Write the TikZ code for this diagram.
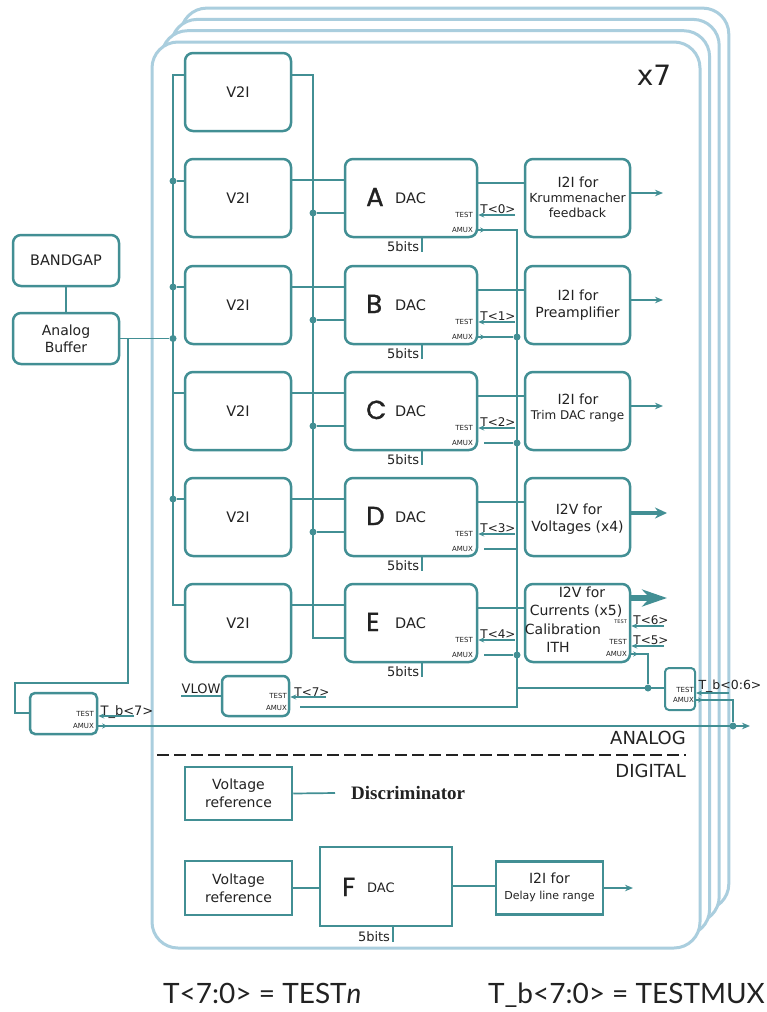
\documentclass[tikz,border=0pt]{standalone}
\usepackage{fontspec}
\setmainfont{DejaVu Sans}
\newfontfamily\latof{Lato}
\newfontfamily\popf[FakeBold=1.2]{Poppins}
\newfontfamily\serff{Liberation Serif}
\usetikzlibrary{arrows.meta,calc}
\definecolor{tealc}{RGB}{66,143,148}
\definecolor{panelc}{RGB}{170,206,222}
\definecolor{inkc}{RGB}{34,34,34}
\newcommand\fsz[2]{\fontsize{#1}{#2}\selectfont}
\tikzset{
 rbox/.style={draw=tealc, line width=2.5pt, rounded corners=8pt, fill=white, inner sep=0pt, text=inkc},
 sbox/.style={draw=tealc, line width=2.5pt, fill=white, inner sep=0pt, text=inkc},
 wire/.style={draw=tealc, line width=1.7pt},
 jdot/.style={circle, fill=tealc, inner sep=0pt, minimum size=7pt},
 port/.style={font=\fsz{7}{8}, inner sep=0pt, text=inkc},
 txt/.style={inner sep=0pt, text=inkc},
 panel/.style={draw=panelc, line width=3pt, fill=white, rounded corners=26pt},
 tip/.style={-{Stealth[length=8pt,width=6.5pt]}},
 intip/.style={-{Stealth[length=6pt,width=5pt]}},
 amark/.style={draw=tealc, line width=1.4pt, -{Stealth[length=5pt,width=5pt]}},
}
\begin{document}
\begin{tikzpicture}[x=1pt,y=-1pt]
\useasboundingbox (0,0) rectangle (766,1012);
\fill[white] (0,0) rectangle (766,1012);
% stacked panels
\foreach \i in {3,2,1,0} {
  \path[panel] (152+9.6*\i, 42-11.3*\i) rectangle (700+9.6*\i, 948-12.7*\i);
}
\node[txt, font=\fsz{28}{30}] (x7) at (654,75) {x7};
% left blocks
\node[rbox, minimum width=106pt, minimum height=51pt, font=\fsz{14.5}{17}] (bg) at (66,260.5) {BANDGAP};
\node[rbox, minimum width=106pt, minimum height=51pt, font=\fsz{14}{17}, align=center] (buf) at (66,338.5) {Analog\\Buffer};
\draw[wire] (bg.south) -- (buf.north);
% V2I column
\foreach \q/\cy in {0/92,1/198,2/305,3/411,4/517,5/623} {
  \node[rbox, minimum width=106pt, minimum height=78pt, font=\fsz{14.5}{16}] (v\q) at (238,\cy) {V2I};
}
% DAC column
\foreach \q/\cy/\lt/\nn in {1/198/A/0,2/305/B/1,3/411/C/2,4/517/D/3,5/623/E/4} {
  \node[rbox, minimum width=132pt, minimum height=78pt] (d\q) at (411,\cy) {};
  \node[txt, anchor=base west, font=\popf\fsz{26}{28}] (dl\q) at (366,\cy+8) {\lt};
  \node[txt, anchor=base west, font=\fsz{14.5}{16}] (dd\q) at (395,\cy+5) {DAC};
  \node[port, anchor=east] (dt\q) at (473,\cy+17) {TEST};
  \node[port, anchor=east] (da\q) at (473,\cy+32) {AMUX};
  \node[txt, anchor=base west, font=\fsz{13}{15}] (db\q) at (387,\cy+53) {5bits};
  \draw[tealc, line width=1.2pt] (d\q.south -| 422,0) -- ++(0,14);
  \node[rbox, minimum width=105pt, minimum height=78pt] (i\q) at (577.5,\cy) {};
  \coordinate (ts\q) at (515,\cy+17);
  \draw[wire, intip] (ts\q) -- (d\q.east |- ts\q);
  \node[txt, anchor=base, font=\fsz{12}{14}] (tl\q) at (498,\cy+15) {T<\nn>};
  \draw[wire] (v\q.east |- 0,\cy-18) -- (d\q.west |- 0,\cy-18);
  \draw[wire] (d\q.east |- 0,\cy-15) -- (i\q.west |- 0,\cy-15);
}
% left bus
\coordinate (lbT) at (173,75);
\coordinate (lbB) at (173,605);
\draw[wire] (v0.west |- lbT) -- (lbT) -- (lbB) -- (v5.west |- lbB);
\foreach \q/\yy in {1/181,2/287,4/499} {
  \node[jdot] (lj\q) at (173,\yy) {};
  \draw[wire] (lj\q) -- (v\q.west |- lj\q);
}
\coordinate (lj3) at (173,393);
\draw[wire] (lj3) -- (v3.west |- lj3);
\node[jdot] (ljb) at (173,338.5) {};
\draw[wire] (buf.east) -- (ljb);
% right bus from V2I 0
\coordinate (rbT) at (313,75);
\coordinate (rbB) at (313,638);
\draw[wire] (v0.east |- rbT) -- (rbT) -- (rbB) -- (d5.west |- rbB);
\foreach \q/\yy in {1/213,2/320,3/426,4/532} {
  \node[jdot] (rj\q) at (313,\yy) {};
  \draw[wire] (rj\q) -- (d\q.west |- rj\q);
}
% I2I texts
\node[txt, font=\fsz{14}{16}] (i1a) at (578,182) {I2I for};
\node[txt, font=\fsz{12.5}{14}] (i1b) at (577.5,198) {Krummenacher};
\node[txt, font=\fsz{12.5}{14}] (i1c) at (577.5,213) {feedback};
\node[txt, font=\fsz{14}{16}] (i2a) at (578,295) {I2I for};
\node[txt, font=\fsz{14}{16}] (i2b) at (577.5,314) {Preamplifier};
\node[txt, font=\fsz{14}{16}] (i3a) at (578,399) {I2I for};
\node[txt, font=\fsz{12}{14}] (i3b) at (577.5,416) {Trim DAC range};
\node[txt, font=\fsz{14}{16}] (i4a) at (579,509) {I2V for};
\node[txt, font=\fsz{14}{16}] (i4b) at (577.5,528) {Voltages (x4)};
\node[txt, font=\fsz{14}{16}] (i5a) at (582,592) {I2V for};
\node[txt, font=\fsz{14}{16}] (i5b) at (576,611) {Currents (x5)};
\node[txt, font=\fsz{14}{16}] (i5c) at (563,629) {Calibration};
\node[txt, font=\fsz{14}{16}] (i5d) at (558,647) {ITH};
\node[port, anchor=east, font=\fsz{5}{6}] (i5t1) at (627,622) {TEST};
\node[port, anchor=east] (i5t2) at (627,642) {TEST};
\node[port, anchor=east] (i5am) at (627,654) {AMUX};
% I2I outputs
\foreach \q/\yy in {1/193,2/300,3/406} {
  \coordinate (o\q) at (663,\yy);
  \draw[wire, tip] (i\q.east |- o\q) -- (o\q);
}
\coordinate (o4) at (667,513);
\draw[tealc, line width=3.5pt, -{Stealth[length=12pt,width=11pt]}] (i4.east |- o4) -- (o4);
\coordinate (o5) at (667,598);
\draw[tealc, line width=6pt, -{Stealth[length=25pt,width=17pt]}] (i5.east |- o5) -- (o5);
% T<6>, T<5>
\coordinate (t6) at (664,626);
\coordinate (t5) at (664,646);
\draw[wire, intip] (t6) -- (i5.east |- t6);
\draw[wire, intip] (t5) -- (i5.east |- t5);
\node[txt, anchor=base, font=\fsz{12}{14}] (t6l) at (651,624) {T<6>};
\node[txt, anchor=base, font=\fsz{12}{14}] (t5l) at (651,644) {T<5>};
% AMUX bus
\coordinate (abT) at (517,230);
\coordinate (abM) at (517,688);
\coordinate (abB) at (517,707);
\coordinate (vla) at (300,707);
\draw[wire] (d1.east |- abT) -- (abT) -- (abB) -- (vla);
\draw[amark] (d1.east |- abT) -- ++(7,0);
\node[jdot] (aj2) at (517,337) {};
\draw[wire] (d2.east |- aj2) -- (aj2);
\draw[amark] (d2.east |- aj2) -- ++(7,0);
\node[jdot] (aj3) at (517,443) {};
\draw[wire] (484,443) -- (aj3);
\coordinate (aj4) at (517,549);
\draw[wire] (484,549) -- (aj4);
\node[jdot] (aj5) at (517,655) {};
\draw[wire] (484,655) -- (aj5);
% I2V AMUX to right mux
\node[jdot] (jb) at (648,688) {};
\draw[wire] (i5.east |- 0,654) -- (648,654) -- (jb);
\draw[amark] (i5.east |- 0,654) -- ++(7,0);
% T_b<0:6> mux
\node[rbox, rounded corners=4pt, line width=2pt, minimum width=30pt, minimum height=42pt] (tbb) at (680,689) {};
\node[port, anchor=east] (tbbt) at (694,690) {TEST};
\node[port, anchor=east] (tbba) at (694,700) {AMUX};
\draw[wire] (abM) -- (tbb.west |- abM);
\node[txt, anchor=base, font=\fsz{12.5}{14}] (tbbl) at (730,689) {T\_b<0:6>};
\coordinate (tbin) at (729,693);
\draw[wire, intip] (tbin) -- (tbb.east |- tbin);
\node[jdot] (jm) at (733,726) {};
\draw[wire] (tbb.east |- 0,700) -- (733,700) -- (jm);
\draw[amark] (tbb.east |- 0,700) -- ++(7,0);
% VLOW
\node[rbox, rounded corners=6pt, minimum width=67pt, minimum height=40pt] (vl) at (255.5,696) {};
\node[port, anchor=east] (vlt1) at (287,696) {TEST};
\node[port, anchor=east] (vla1) at (287,708) {AMUX};
\node[txt, anchor=base, font=\fsz{13}{14}] (vlow) at (201,693) {VLOW};
\draw[wire] (vlow.south west |- 0,696) -- (vl.west |- 0,696);
\node[txt, anchor=base, font=\fsz{12}{14}] (t7l) at (312,696) {T<7>};
\coordinate (t7) at (326,697);
\draw[wire, intip] (t7) -- (vl.east |- t7);
% T_b<7> mux
\node[rbox, rounded corners=5pt, minimum width=67pt, minimum height=41pt] (tb7) at (63.5,713.5) {};
\node[port, anchor=east] (tb7t) at (94,714) {TEST};
\node[port, anchor=east] (tb7a) at (94,726) {AMUX};
\node[txt, anchor=base, font=\fsz{13}{15}] (tb7l) at (127,715) {T\_b<7>};
\coordinate (tb7in) at (134,716);
\draw[wire, intip] (tb7in) -- (tb7.east |- tb7in);
\draw[wire] (buf.east -| 128,0) -- (128,683) -- (15,683) -- (15,713) -- (tb7.west |- 0,713);
% analog output line
\coordinate (aout) at (750,726);
\draw[wire, tip] (tb7.east |- aout) -- (aout);
\draw[amark] (tb7.east |- aout) -- ++(9,0);
% ANALOG / DIGITAL
\node[txt, anchor=base east, font=\fsz{18}{20}] (an) at (686,744) {ANALOG};
\draw[inkc, line width=2.2pt, dash pattern=on 12pt off 5pt] (157,755) -- (686,755);
\node[txt, anchor=base east, font=\fsz{18}{20}] (dg) at (686,777) {DIGITAL};
% digital section
\node[sbox, minimum width=107pt, minimum height=53pt, align=center, font=\fsz{14}{18}] (vr1) at (238.5,793.5) {Voltage\\reference};
\node[txt, anchor=west, font=\serff\bfseries\fsz{19}{20}] (disc) at (351,793) {Discriminator};
\draw[wire] (vr1.east) -- (disc.west -| 335,0);
\node[sbox, minimum width=107pt, minimum height=54pt, align=center, font=\fsz{14}{18}] (vr2) at (238.5,888) {Voltage\\reference};
\node[sbox, minimum width=132pt, minimum height=79pt] (fd) at (386,886.5) {};
\node[txt, anchor=base west, font=\popf\fsz{26}{28}] (fl) at (342,896) {F};
\node[txt, anchor=base west, font=\fsz{13}{15}] (fdac) at (367,892) {DAC};
\node[txt, anchor=base, font=\fsz{13}{15}] (fb) at (374,941) {5bits};
\draw[tealc, line width=1.2pt] (fd.south -| 393,0) -- ++(0,15);
\draw[wire] (vr2.east) -- (fd.west |- vr2.east);
\node[sbox, minimum width=107pt, minimum height=53pt] (ifd) at (549.5,888) {};
\node[txt, font=\fsz{14}{16}] (ifda) at (549.5,878) {I2I for};
\node[txt, font=\fsz{11}{13}] (ifdb) at (549.5,896) {Delay line range};
\draw[wire] (fd.east |- 0,886) -- (ifd.west |- 0,886);
\coordinate (ofd) at (633,888);
\draw[wire, tip] (ifd.east |- ofd) -- (ofd);
% legend
\node[txt, anchor=base west, font=\latof\fsz{28}{30}] (leg1) at (163,1003) {T<7:0> = TEST\textit{n}};
\node[txt, anchor=base east, font=\latof\fsz{28}{30}] (leg2) at (765,1003) {T\_b<7:0> = TESTMUX};
\end{tikzpicture}
\end{document}
